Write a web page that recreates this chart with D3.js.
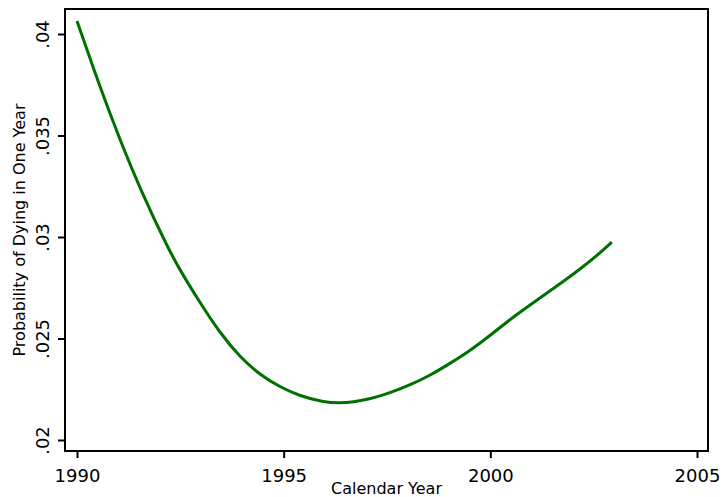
<!DOCTYPE html>
<html lang="en">
<head>
  <meta charset="UTF-8">
  <title>Probability of Dying in One Year</title>
  <script src="https://d3js.org/d3.v7.min.js"></script>
  <style>
    body { margin: 0; background: #fff; }
    text { font-family: "DejaVu Sans", Verdana, sans-serif; fill: #000; }
  </style>
</head>
<body>
  <script>
    // values
    const years = [1990.0, 1990.58, 1991.04, 1991.57, 1992.2, 1992.49, 1992.98, 1993.46, 1993.94,
      1994.43, 1994.91, 1995.39, 1995.95, 1996.36, 1996.68, 1997.09, 1997.57, 1998.06, 1998.56,
      1999.04, 1999.53, 2000.01, 2000.55, 2001.2, 2001.85, 2002.17, 2002.58, 2002.94];
    const probs = [0.04064, 0.03724, 0.03478, 0.03217, 0.02946, 0.02837, 0.02675, 0.02527, 0.02409,
      0.0232, 0.02261, 0.02217, 0.02187, 0.02182, 0.02187, 0.02202, 0.02232, 0.02271, 0.0232,
      0.02379, 0.02443, 0.02517, 0.02606, 0.027, 0.02793, 0.02842, 0.02908, 0.02975];
    const xTicks = [1990, 1995, 2000, 2005];
    const yTicks = [0.02, 0.025, 0.03, 0.035, 0.04];
    const yTickLabels = [".02", ".025", ".03", ".035", ".04"];

    const width = 722, height = 497;
    const plot = { left: 65, right: 708, top: 9, bottom: 451 };

    const svg = d3.select("body").append("svg")
      .attr("width", width)
      .attr("height", height);

    const x = d3.scaleLinear().domain([1990, 2005]).range([77, 697]);
    const y = d3.scaleLinear().domain([0.02, 0.04]).range([440, 34]);

    // plot region frame
    svg.append("rect")
      .attr("x", plot.left)
      .attr("y", plot.top)
      .attr("width", plot.right - plot.left)
      .attr("height", plot.bottom - plot.top)
      .attr("fill", "none")
      .attr("stroke", "#000")
      .attr("stroke-width", 2);

    // x axis
    const xAxis = svg.append("g")
      .attr("transform", "translate(0," + plot.bottom + ")")
      .call(d3.axisBottom(x).tickValues(xTicks).tickFormat(d3.format("d")).tickSize(7).tickPadding(11));
    xAxis.select(".domain").remove();
    xAxis.selectAll("line").attr("stroke", "#000").attr("stroke-width", 2);
    xAxis.selectAll("text").style("font-size", "18px").attr("font-family", null);

    // y axis (labels rotated)
    const yAxis = svg.append("g")
      .attr("transform", "translate(" + plot.left + ",0)")
      .call(d3.axisLeft(y).tickValues(yTicks).tickSize(7).tickFormat((d, i) => yTickLabels[i]));
    yAxis.select(".domain").remove();
    yAxis.selectAll("line").attr("stroke", "#000").attr("stroke-width", 2);
    yAxis.selectAll("text")
      .style("font-size", "18px")
      .attr("font-family", null)
      .attr("x", null).attr("dy", null)
      .attr("text-anchor", "middle")
      .attr("transform", "translate(-16,0) rotate(-90)");

    // axis titles
    svg.append("text")
      .attr("x", (plot.left + plot.right) / 2)
      .attr("y", 494)
      .attr("text-anchor", "middle")
      .style("font-size", "16px")
      .text("Calendar Year");

    svg.append("text")
      .attr("transform", "translate(25," + (plot.top + plot.bottom) / 2 + ") rotate(-90)")
      .attr("text-anchor", "middle")
      .style("font-size", "16px")
      .text("Probability of Dying in One Year");

    // the curve
    const line = d3.line()
      .x((d, i) => x(years[i]))
      .y(d => y(d))
      .curve(d3.curveBasis);

    svg.append("path")
      .datum(probs)
      .attr("d", line)
      .attr("fill", "none")
      .attr("stroke", "#007000")
      .attr("stroke-width", 3);
  </script>
</body>
</html>
